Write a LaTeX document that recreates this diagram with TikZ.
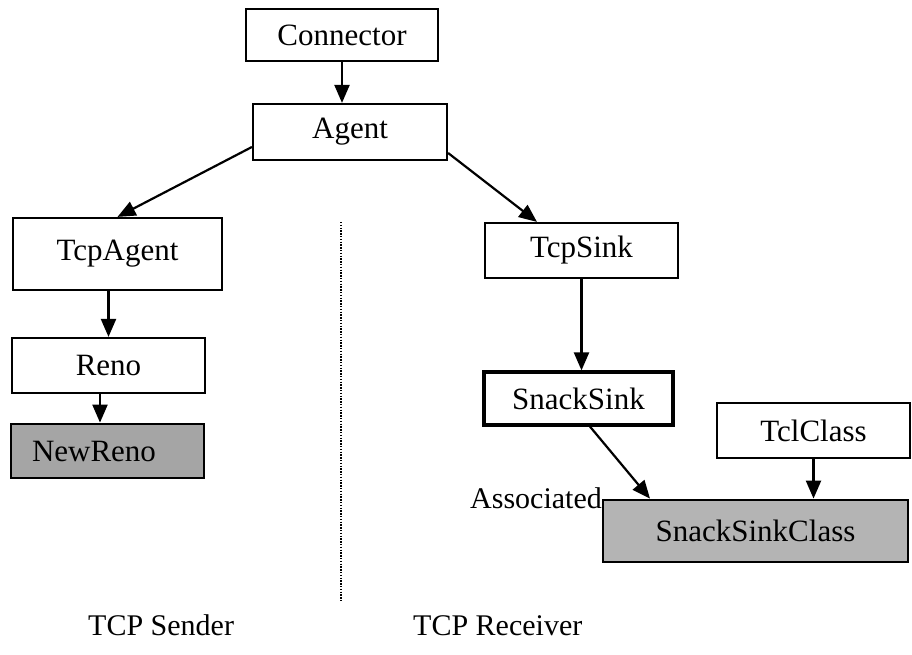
\documentclass[tikz,border=0pt]{standalone}
\usepackage{fontspec}
\setmainfont{Liberation Serif}
\usetikzlibrary{arrows.meta,calc}
\definecolor{shadeA}{RGB}{165,165,165}
\definecolor{shadeB}{RGB}{180,180,180}
\tikzset{
  box/.style={draw, line width=2.2pt, rectangle, inner sep=0pt, font=\fontsize{31}{37}\selectfont},
  boldbox/.style={box, line width=3.2pt},
  shadebox/.style={box, line width=2.8pt},
  conn/.style={line width=2.2pt, -{Triangle[length=18pt,width=15pt]}},
  lbl/.style={font=\fontsize{30}{36}\selectfont, inner sep=0pt},
}
\begin{document}
\begin{tikzpicture}[x=1pt,y=-1pt]
\useasboundingbox (0,0) rectangle (912,655);
\node[box, minimum width=192pt, minimum height=52pt] (connector) at (342,35) {Connector};
\node[box, minimum width=194pt, minimum height=56pt] (agent) at (350,132) {Agent};
\node[box, minimum width=209pt, minimum height=72pt] (tcpagent) at (117.5,254) {TcpAgent};
\node[box, minimum width=193pt, minimum height=55pt] (reno) at (108.5,365.5) {Reno};
\node[shadebox, fill=shadeA, minimum height=54pt, text width=151pt, inner xsep=21pt, align=left] (newreno) at (107.5,451) {NewReno};
\node[box, minimum width=193pt, minimum height=55pt] (tcpsink) at (581.5,250.5) {TcpSink};
\node[boldbox, minimum width=189pt, minimum height=53pt] (snacksink) at (578.5,398.5) {SnackSink};
\node[box, minimum width=193pt, minimum height=55pt] (tclclass) at (813.5,430.5) {TclClass};
\node[shadebox, fill=shadeB, minimum width=305pt, minimum height=62pt] (ssc) at (755.5,531) {SnackSinkClass};

\coordinate (xrenoarrow) at (100,0);
\draw[conn] (connector.south) -- (agent.north -| connector);
\draw[conn] ([yshift=-15pt]agent.west) -- (tcpagent.north);
\draw[conn] ([yshift=-21pt]agent.east) -- ([xshift=-44.5pt]tcpsink.north);
\draw[conn] (tcpagent.south -| reno) -- (reno.north);
\draw[conn] (reno.south -| xrenoarrow) -- (newreno.north -| xrenoarrow);
\draw[conn] (tcpsink.south) -- (snacksink.north -| tcpsink);
\draw[conn] ([xshift=11.5pt]snacksink.south) -- ([xshift=-105.5pt]ssc.north);
\draw[conn] (tclclass.south) -- (ssc.north -| tclclass);

\coordinate (dtop) at (341,222);
\coordinate (dbot) at (341,602);
\draw[line width=1.3pt, dash pattern=on 1.3pt off 1.5pt] (dtop) -- (dbot);

\node[lbl, anchor=base west] (assoc) at (470,508) {Associated};
\node[lbl, anchor=base west] (sender) at (88,635) {TCP Sender};
\node[lbl, anchor=base west] (receiver) at (413,635) {TCP Receiver};
\end{tikzpicture}
\end{document}
